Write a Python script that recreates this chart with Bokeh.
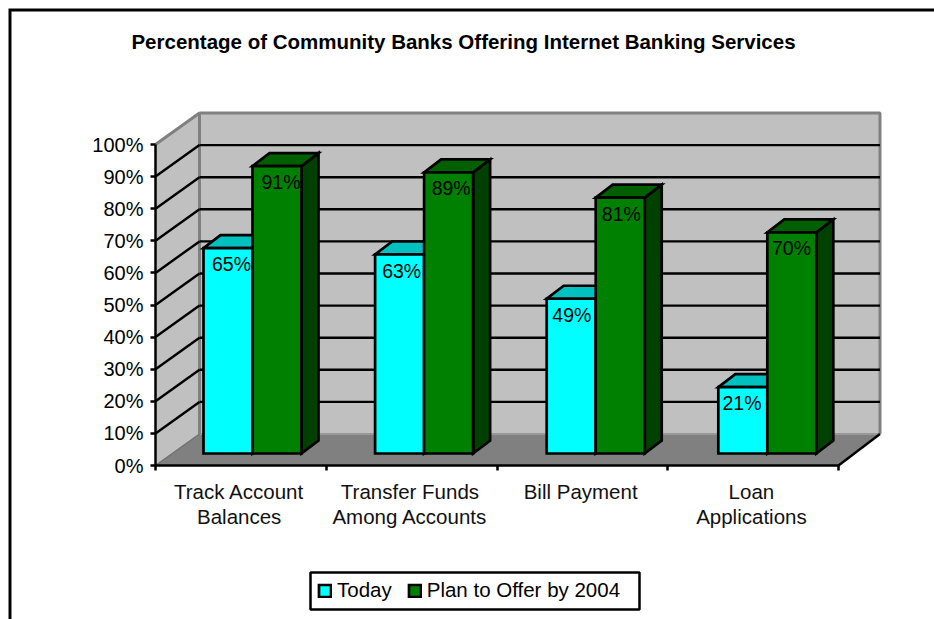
from bokeh.plotting import figure
from bokeh.embed import file_html
from bokeh.resources import INLINE
from bokeh.models import (LinearAxis, FixedTicker, PrintfTickFormatter, Legend, LegendItem,
                          Label, BoxAnnotation, ColumnDataSource)
from bokeh.core.properties import value

TITLE = "Percentage of Community Banks Offering Internet Banking Services"
categories = ["Track Account\nBalances", "Transfer Funds\nAmong Accounts", "Bill Payment", "Loan\nApplications"]
series_names = ["Today", "Plan to Offer by 2004"]
today = [65, 63, 49, 21]
plan = [91, 89, 81, 70]
y_ticks = [0, 10, 20, 30, 40, 50, 60, 70, 80, 90, 100]

FONT = "Liberation Sans"
W, H = 934, 619
PX_X, PX_Y = 170.75, 3.21         # pixels per category / per percent
X0, Y0 = 155, 465                 # page pixel of the chart origin
WALL_DX, WALL_DY = 44 / PX_X, 31.5 / PX_Y
BAR_DX, BAR_DY = 17 / PX_X, 13 / PX_Y
BAR_W = 49 / PX_X
BAR_OFF, BAR_STEP = 48 / PX_X, 1.0050
BAR_BASE, BAR_SCALE = 12 / PX_Y, 0.984
LABEL_OFF, LABEL_W, LABEL_STEP = 76 / PX_X, 49.5 / PX_X, 0.9965
N = len(categories)
WALL_R = N + 41.5 / PX_X
LW = 2.7

def fx(px):
    return (px - X0) / PX_X

def fy(py):
    return (Y0 - py) / PX_Y

p = figure(width=W, height=H, output_backend="svg", toolbar_location=None,
           x_range=(fx(0), fx(W)), y_range=(fy(H), fy(0)),
           x_axis_location=None, y_axis_location=None,
           min_border=0, min_border_left=0, min_border_right=0, min_border_top=0, min_border_bottom=0,
           outline_line_color=None, background_fill_color="white", border_fill_color="white")
p.grid.visible = False

# walls and floor
p.patch([0, N, WALL_R, WALL_DX], [0, 0, WALL_DY, WALL_DY], fill_color="#808080", line_color=None)
p.patch([WALL_DX, WALL_R, WALL_R, WALL_DX],
        [WALL_DY, WALL_DY, 100 + WALL_DY, 100 + WALL_DY], fill_color="#c0c0c0", line_color=None)
p.patch([0, WALL_DX, WALL_DX, 0], [0, WALL_DY, 100 + WALL_DY, 100], fill_color="#c0c0c0", line_color=None)

# wall edges
p.line([WALL_DX, WALL_R], [WALL_DY, WALL_DY], line_color="#999999", line_width=2)
p.line([0, WALL_DX], [0, WALL_DY], line_color="#707070", line_width=1.5)
p.line([0, WALL_DX, WALL_DX], [100, 100 + WALL_DY, WALL_DY], line_color="#808080", line_width=3)
p.line([WALL_DX, WALL_R, WALL_R], [100 + WALL_DY, 100 + WALL_DY, WALL_DY],
       line_color="#808080", line_width=3)

# grid lines on the walls
inner = y_ticks[1:-1]
p.segment([0] * len(inner), inner, [WALL_DX] * len(inner), [t + WALL_DY for t in inner],
          line_color="black", line_width=2.4)
p.segment([WALL_DX] * len(inner), [t + WALL_DY for t in inner], [WALL_R] * len(inner),
          [t + WALL_DY for t in inner], line_color="black", line_width=2.4)
p.line([N, WALL_R], [0, WALL_DY], line_color="black", line_width=2.4)

# bars
def bar(left, v, front, top, side):
    h = BAR_BASE + v * BAR_SCALE
    r = left + BAR_W
    p.patch([r, r + BAR_DX, r + BAR_DX, r], [BAR_BASE, BAR_BASE + BAR_DY, h + BAR_DY, h],
            fill_color=side, line_color="black", line_width=LW, line_join="miter")
    p.patch([left, r, r + BAR_DX, left + BAR_DX], [h, h, h + BAR_DY, h + BAR_DY],
            fill_color=top, line_color="black", line_width=LW, line_join="miter")
    return p.quad(left=[left], right=[r], bottom=[BAR_BASE], top=[h],
                  fill_color=front, line_color="black", line_width=LW, line_join="miter")

r_today = r_plan = None
for i in range(N):
    l = i * BAR_STEP + BAR_OFF
    r_today = bar(l, today[i], "#00ffff", "#00c0c0", "#008080")
    r_plan = bar(l + BAR_W, plan[i], "#008000", "#006000", "#004000")

# data labels
for j, vals in enumerate((today, plan)):
    src = ColumnDataSource(dict(
        x=[i * LABEL_STEP + LABEL_OFF + j * LABEL_W for i in range(N)],
        y=[BAR_BASE + v * BAR_SCALE for v in vals],
        t=[f"{v}%" for v in vals]))
    p.text("x", "y", text="t", source=src, text_font=value(FONT), text_font_size="19.5px",
           text_color="black", text_align="center", text_baseline="middle", y_offset=16)

# axes
y_axis = LinearAxis(fixed_location=0, ticker=FixedTicker(ticks=y_ticks),
                    formatter=PrintfTickFormatter(format="%d%%"),
                    axis_line_color="black", axis_line_width=2.5, major_tick_line_color="black",
                    major_tick_line_width=2.5, major_tick_in=0, major_tick_out=5,
                    minor_tick_line_color=None, major_label_standoff=7,
                    major_label_text_font=FONT, major_label_text_font_size="20px",
                    major_label_text_color="black", bounds=(0, 100))
p.add_layout(y_axis, "left")
x_axis = LinearAxis(fixed_location=0, ticker=FixedTicker(ticks=list(range(N + 1))),
                    major_label_text_color=None, major_label_text_font_size="1px",
                    axis_line_color="black", axis_line_width=2.5, major_tick_line_color="black",
                    major_tick_line_width=2.5, major_tick_in=0, major_tick_out=5,
                    minor_tick_line_color=None, bounds=(0, N))
p.add_layout(x_axis, "below")
label_axis = LinearAxis(fixed_location=0, ticker=FixedTicker(ticks=[i + 0.49 for i in range(N)]),
                        major_label_overrides={i + 0.49: c for i, c in enumerate(categories)},
                        axis_line_color=None, major_tick_line_color=None, minor_tick_line_color=None,
                        major_label_standoff=8, major_label_text_font=FONT,
                        major_label_text_font_size="20.5px", major_label_text_color="#111111",
                        major_label_text_line_height=1.13)
p.add_layout(label_axis, "below")

# outer chart-area border: only its left and top sides are inside the crop
p.line([fx(9.5), fx(9.5), fx(W)], [fy(H), fy(9.5), fy(9.5)], line_color="black", line_width=3,
       line_join="miter")

p.add_layout(Label(x=463, y=H - 41, x_units="screen", y_units="screen", text=TITLE, text_font=FONT,
                   text_font_size="20.5px", text_font_style="bold", text_align="center",
                   text_baseline="middle", text_color="black"))

p.add_layout(BoxAnnotation(left=fx(310), right=fx(639), top=fy(572), bottom=fy(609),
                           fill_color="white", fill_alpha=1, line_color="black", line_width=2.5,
                           line_alpha=1))
legend = Legend(items=[LegendItem(label=series_names[0], renderers=[r_today]),
                       LegendItem(label=series_names[1], renderers=[r_plan])],
                orientation="horizontal", location=(317, 17), border_line_color=None,
                background_fill_alpha=0,
                glyph_width=15, glyph_height=15, label_text_font=FONT, label_text_font_size="20.5px",
                label_text_color="black", label_standoff=5, spacing=15, padding=7, margin=0,
                label_height=20)
p.add_layout(legend, "center")

open("out.html", "w").write(file_html(p, INLINE))
